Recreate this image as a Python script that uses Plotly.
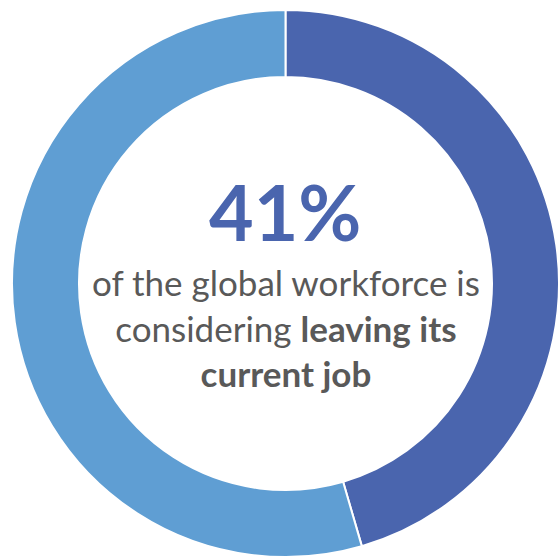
import plotly.graph_objects as go

labels = ["Considering leaving", "Not considering"]
values = [45.5, 54.5]
colors = ["#4A65AE", "#5F9ED3"]

W, H = 559, 557
ML, MT = 12, 10
PW, PH = W - ML, H - MT

def px(x):
    return (x - ML) / PW

def py(y):
    return 1 - (y - MT) / PH

fig = go.Figure(go.Pie(
    labels=labels, values=values, hole=0.755, sort=False,
    direction="clockwise", rotation=0, textinfo="none", hoverinfo="label+percent",
    marker=dict(colors=colors, line=dict(color="white", width=2)),
    showlegend=False,
))

fig.add_annotation(x=px(285), y=py(211), xref="paper", yref="paper",
                   text="<b>41%</b>", showarrow=False, xanchor="center", yanchor="middle",
                   font=dict(family="Lato", size=77, color="#4A65AE"))
fig.add_annotation(x=px(286), y=py(327), xref="paper", yref="paper",
                   text="of the global workforce is<br>considering <b>leaving its</b><br><b>current job</b>",
                   showarrow=False, xanchor="center", yanchor="middle", align="center",
                   font=dict(family="Lato", size=35, color="#595959"))

fig.update_layout(width=W, height=H, margin=dict(l=ML, r=0, t=MT, b=0),
                  paper_bgcolor="white", plot_bgcolor="white")
fig.write_html("out.html")
